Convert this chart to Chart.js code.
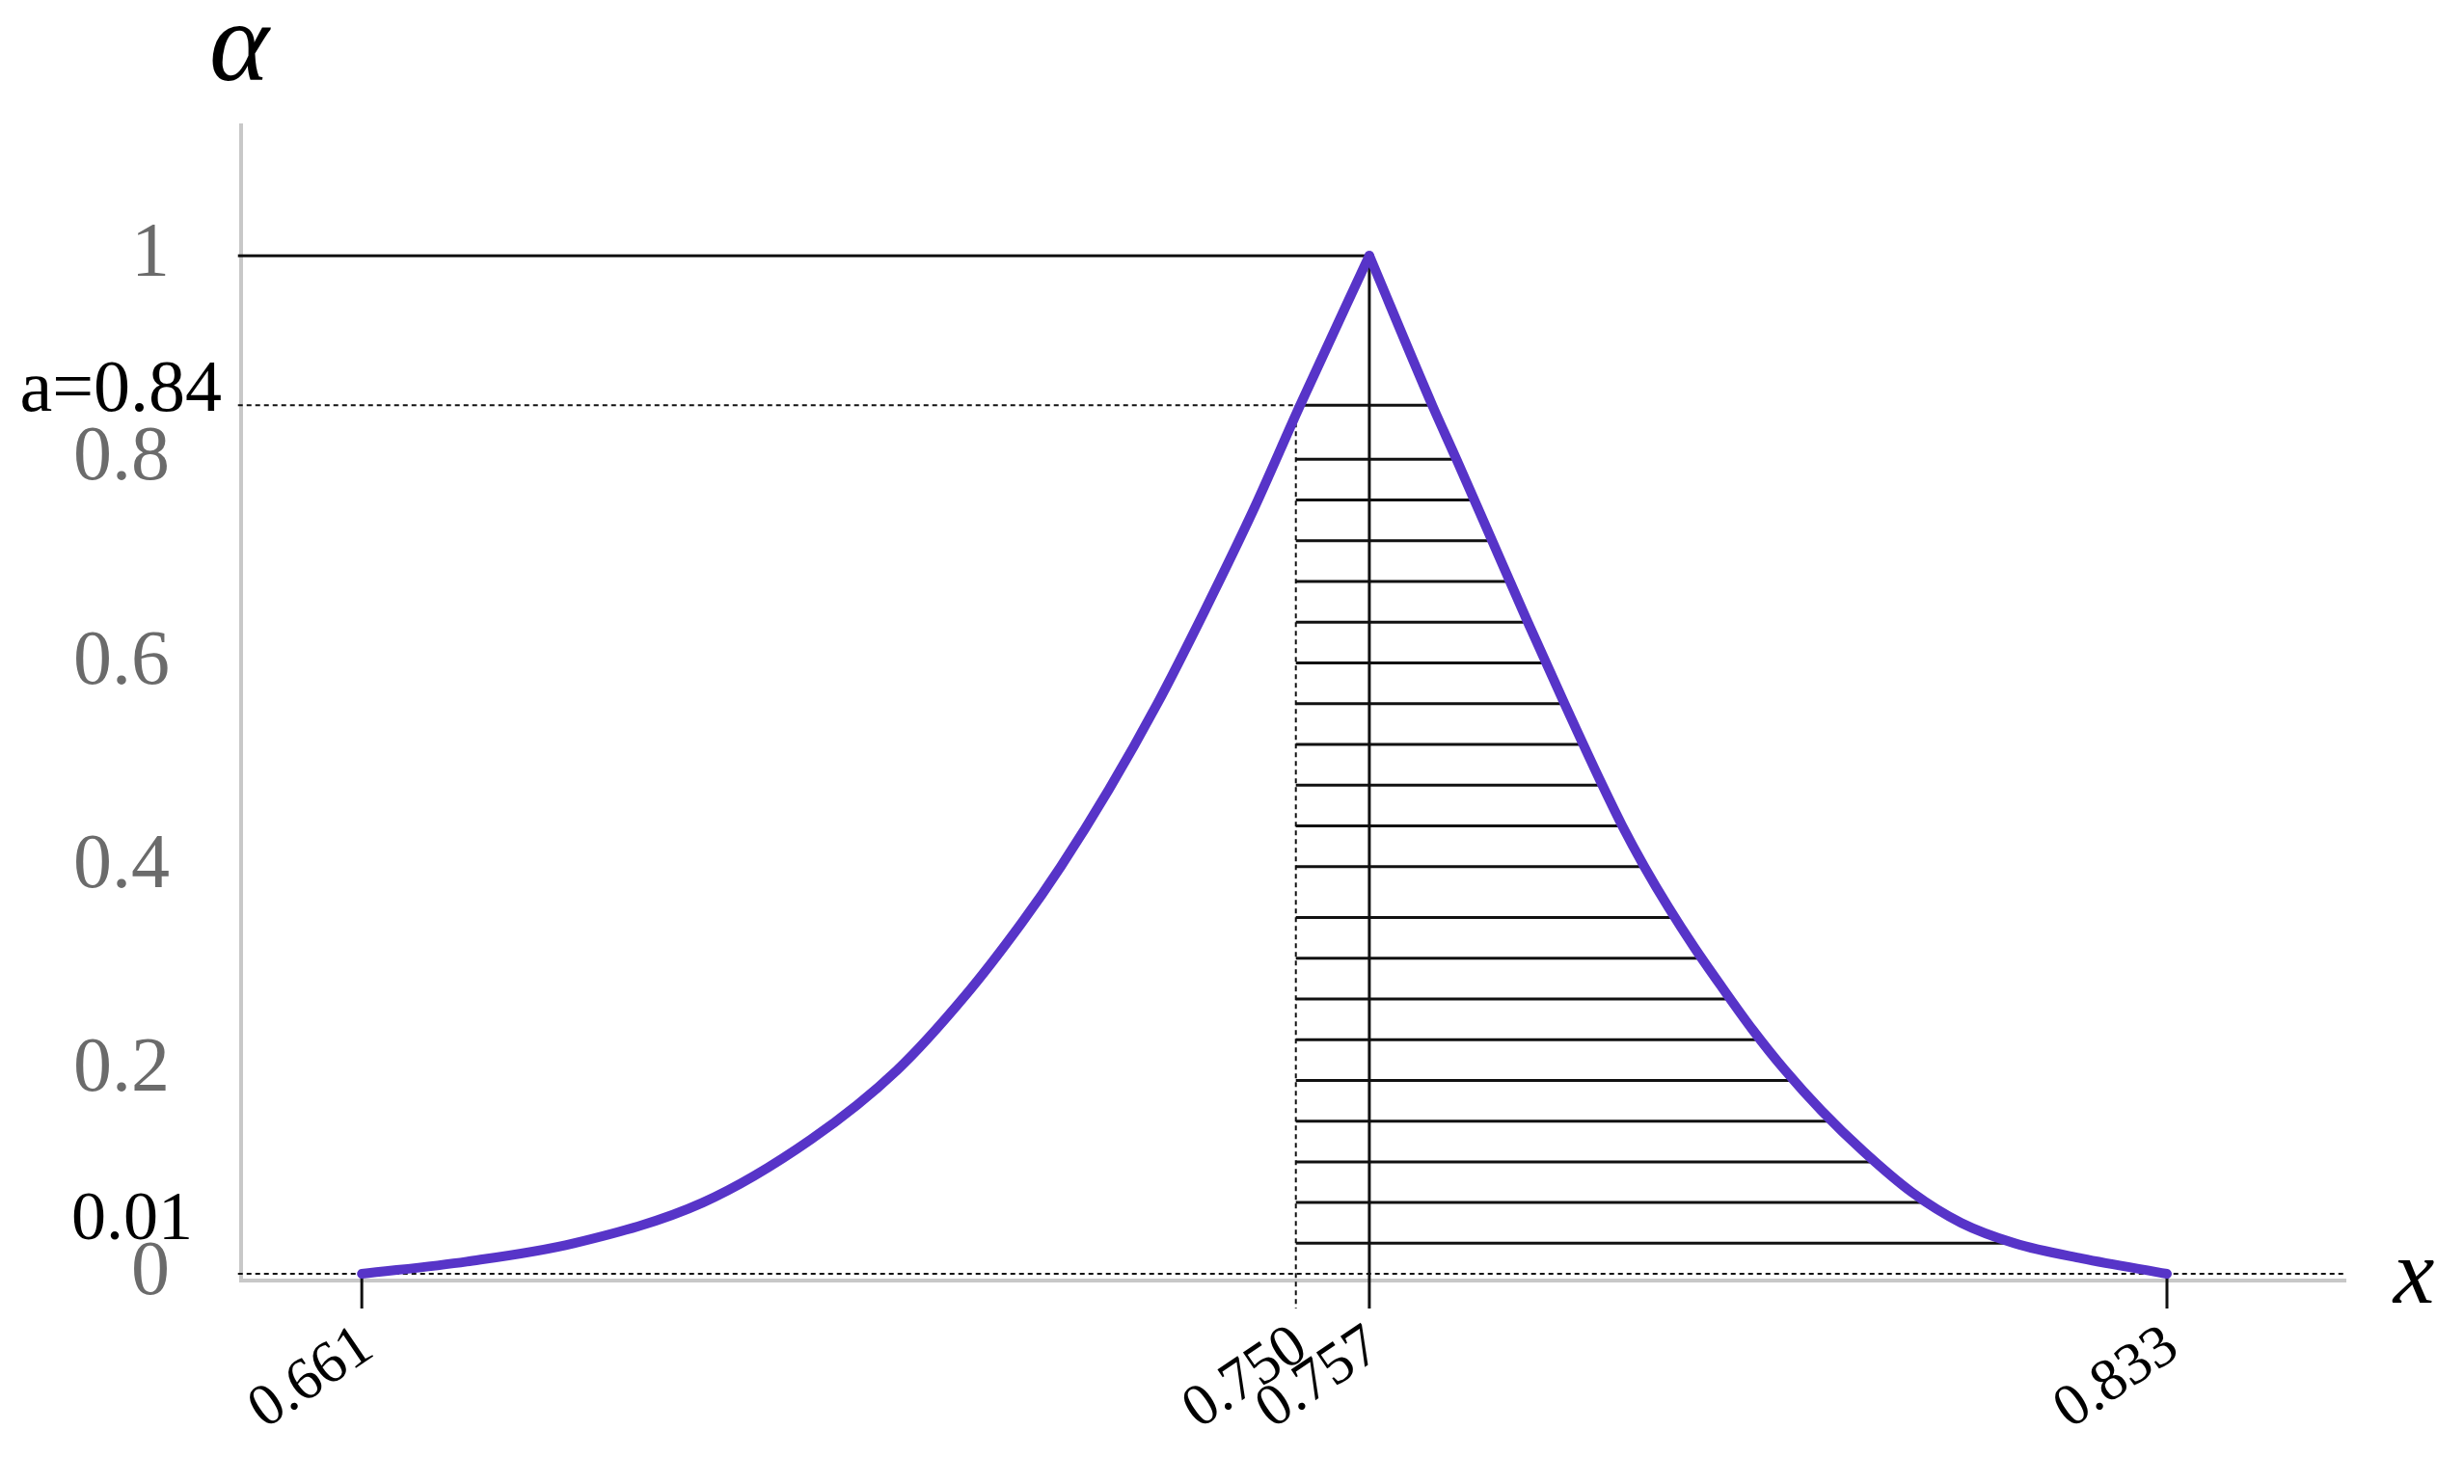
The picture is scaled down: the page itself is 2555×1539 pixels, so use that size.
<!DOCTYPE html>
<html>
<head>
<meta charset="utf-8">
<script src="https://cdn.jsdelivr.net/npm/chart.js@4.4.0/dist/chart.umd.min.js"></script>
<style>
  html, body { margin: 0; padding: 0; background: #fff; }
  #wrap { width: 2555px; height: 1539px; }
</style>
</head>
<body>
<div id="wrap"><canvas id="chart" width="2555" height="1539"></canvas></div>
<script>
// membership curve, left branch (x, alpha)
const leftX = [0.661, 0.6710, 0.6812, 0.6935, 0.7038, 0.7120, 0.7184, 0.7239, 0.7276, 0.7322, 0.7368, 0.7413, 0.7459, 0.7504, 0.757];
const leftA = [0, 0.012, 0.030, 0.070, 0.132, 0.200, 0.272, 0.345, 0.400, 0.476, 0.560, 0.651, 0.749, 0.853, 1];

// right branch
const rightX = [0.757, 0.7630, 0.7653, 0.7687, 0.7721, 0.7756, 0.7792, 0.7811, 0.7832, 0.7855, 0.7880, 0.7907, 0.7935, 0.7966, 0.8001, 0.8041, 0.8087, 0.8134, 0.8185, 0.8249, 0.833];
const rightA = [1, 0.853, 0.80, 0.72, 0.64, 0.56, 0.48, 0.44, 0.40, 0.36, 0.32, 0.28, 0.24, 0.20, 0.16, 0.12, 0.08, 0.05, 0.03, 0.015, 0];

// alpha cut levels of the hatching
const hatchLevels = [0.80, 0.76, 0.72, 0.68, 0.64, 0.60, 0.56, 0.52, 0.48, 0.44, 0.40, 0.35, 0.31, 0.27, 0.23, 0.19, 0.15, 0.11, 0.07, 0.03];
const aLevel = 0.853;
const aLabel = "a=0.84";
const lowLabel = "0.01";

const xTicks = [0.661, 0.750, 0.757, 0.833];
const yTicks = [0, 0.2, 0.4, 0.6, 0.8, 1];
const xLeftCut = 0.750;
const xPeak = 0.757;

const xMin = 0.6495, xMax = 0.85;
const yMin = -0.0066, yMax = 1.128;
const tickBottom = -0.034;

const purple = "#5734c8";
const dark = "#111";

function rightEdge(a) {
  for (let i = 0; i < rightA.length - 1; i++) {
    if (a <= rightA[i] && a >= rightA[i + 1]) {
      const t = (rightA[i] - a) / (rightA[i] - rightA[i + 1]);
      return rightX[i] + t * (rightX[i + 1] - rightX[i]);
    }
  }
  return rightX[rightX.length - 1];
}

function seg(x1, y1, x2, y2, opts) {
  return Object.assign({
    data: [{ x: x1, y: y1 }, { x: x2, y: y2 }],
    borderColor: dark,
    borderWidth: 3,
    pointRadius: 0,
    showLine: true,
    clip: false,
    borderCapStyle: "butt"
  }, opts || {});
}

const datasets = [];

// curve on top
datasets.push({
  data: leftX.map((x, i) => ({ x: x, y: leftA[i] })),
  borderColor: purple, borderWidth: 10, pointRadius: 0, showLine: true,
  cubicInterpolationMode: "monotone", borderCapStyle: "round", clip: false
});
datasets.push({
  data: rightX.map((x, i) => ({ x: x, y: rightA[i] })),
  borderColor: purple, borderWidth: 10, pointRadius: 0, showLine: true,
  cubicInterpolationMode: "monotone", borderCapStyle: "round", clip: false
});

hatchLevels.forEach((a) => {
  datasets.push(seg(xLeftCut, a, rightEdge(a), a));
});

const dotted = { borderDash: [5, 4], borderWidth: 2, borderColor: "#111" };
datasets.push(seg(xMin - 0.0003, aLevel, xLeftCut, aLevel, dotted));
datasets.push(seg(xLeftCut, aLevel, rightEdge(aLevel), aLevel));
datasets.push(seg(xMin - 0.0003, 1, xPeak, 1));
datasets.push(seg(xMin - 0.0003, 0, xMax, 0, dotted));
datasets.push(seg(xLeftCut, aLevel, xLeftCut, tickBottom, dotted));
datasets.push(seg(xPeak, 1, xPeak, tickBottom));
datasets.push(seg(xTicks[0], 0, xTicks[0], tickBottom));
datasets.push(seg(xTicks[3], 0, xTicks[3], tickBottom));

const textLabels = {
  id: "textLabels",
  afterDraw(chart) {
    const { ctx, chartArea, scales } = chart;
    const ys = scales.y;
    ctx.save();
    ctx.fillStyle = "#000";
    ctx.textBaseline = "alphabetic";
    ctx.textAlign = "center";

    ctx.font = "italic 118px 'Liberation Serif'";
    ctx.fillText("\u03b1", chartArea.left - 2, chartArea.top - 47);
    ctx.font = "italic 96px 'Liberation Serif'";
    ctx.fillText("x", chartArea.right + 71, ys.getPixelForValue(0) + 30);

    ctx.textAlign = "right";
    ctx.font = "76px 'Liberation Serif'";
    ctx.fillText(aLabel, chartArea.left - 20, ys.getPixelForValue(aLevel) + 6);
    ctx.font = "72px 'Liberation Serif'";
    ctx.fillText(lowLabel, chartArea.left - 50, ys.getPixelForValue(hatchLevels[hatchLevels.length - 1]) - 4);
    ctx.restore();
  }
};

new Chart(document.getElementById("chart"), {
  type: "scatter",
  data: { datasets: datasets },
  options: {
    responsive: false,
    animation: false,
    events: [],
    layout: { padding: { top: 130, right: 123, bottom: 0, left: 0 } },
    plugins: { legend: { display: false }, tooltip: { enabled: false } },
    scales: {
      x: {
        type: "linear",
        min: xMin,
        max: xMax,
        afterBuildTicks: (axis) => { axis.ticks = xTicks.map((v) => ({ value: v })); },
        afterFit: (axis) => { axis.height = 211; },
        grid: { display: false, drawTicks: false },
        border: { display: true, color: "#c8c8c8", width: 4 },
        ticks: {
          autoSkip: false,
          minRotation: 34,
          maxRotation: 34,
          padding: 32,
          labelOffset: 6,
          color: "#000",
          font: { family: "Liberation Serif", size: 62 },
          callback: (v) => Number(v).toFixed(3)
        }
      },
      y: {
        type: "linear",
        min: yMin,
        max: yMax,
        afterBuildTicks: (axis) => { axis.ticks = yTicks.map((v) => ({ value: v })); },
        afterFit: (axis) => { axis.width = 250; },
        grid: { display: false, drawTicks: false },
        border: { display: true, color: "#c8c8c8", width: 4 },
        ticks: {
          autoSkip: false,
          padding: 74,
          color: "#6b6b6b",
          font: { family: "Liberation Serif", size: 80 },
          callback: (v) => String(v)
        }
      }
    }
  },
  plugins: [textLabels]
});
</script>
</body>
</html>
